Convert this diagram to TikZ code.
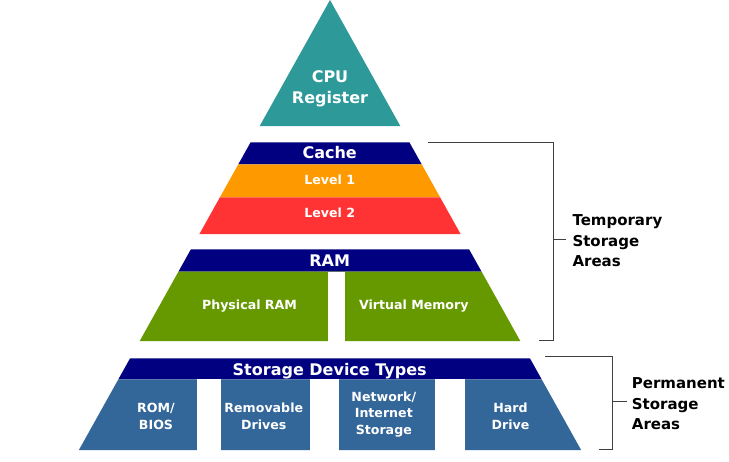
\documentclass[tikz,border=0pt]{standalone}
\usepackage{fontspec}
\setmainfont{DejaVu Sans}
\usepackage{tikz}
\definecolor{cputeal}{RGB}{46,153,153}
\definecolor{bandnavy}{RGB}{0,0,128}
\definecolor{lvlorange}{RGB}{255,153,0}
\definecolor{lvlred}{RGB}{255,51,51}
\definecolor{ramgreen}{RGB}{102,153,0}
\definecolor{devblue}{RGB}{51,102,153}
\tikzstyle{inlabel} = [text=white, inner sep=0pt, anchor=base, align=center]
\tikzstyle{bigtext} = [inlabel, font=\fontsize{16}{21}\selectfont\bfseries]
\tikzstyle{smalltext} = [inlabel, font=\fontsize{12.6}{16.6}\selectfont\bfseries]
\tikzstyle{sidetext} = [inner sep=0pt, anchor=base west, align=left, font=\fontsize{15}{20.5}\selectfont\bfseries]
\tikzstyle{bracket} = [line width=1.5pt, black!75]
\def\slope{0.558}
% one horizontal band of the pyramid, from y=#1 down to y=#2
\newcommand{\pyrband}[3]{%
  \fill[#3] ({330-\slope*#1},#1) -- ({330+\slope*#1},#1) -- ({330+\slope*#2},#2) -- ({330-\slope*#2},#2) -- cycle;}

\begin{document}
\begin{tikzpicture}[x=1pt, y=-1pt]
\fill[white] (0,0) rectangle (729,461);

% Pyramid
\fill[cputeal] (330,0) -- ({330+\slope*126},126) -- ({330-\slope*126},126) -- cycle;
\pyrband{142.3}{164.3}{bandnavy}
\pyrband{164.3}{197.3}{lvlorange}
\pyrband{197.3}{234}{lvlred}
\pyrband{249.3}{271.7}{bandnavy}
\pyrband{271.7}{341}{ramgreen}
\fill[white] (327.7,271.7) rectangle (345,341.5);
\pyrband{358.3}{379.3}{bandnavy}
\pyrband{379.3}{450}{devblue}
\foreach \xa/\xb in {196.7/220.7, 310/339.3, 435/465}
  \fill[white] (\xa,379.3) rectangle (\xb,450.5);

% Labels (base = baseline of the last line)
\node (cpu) [bigtext] at (330,103.5) {CPU\\Register};
\node (cache) [bigtext] at (329.7,158.3) {Cache};
\node (lvl1) [smalltext] at (329.7,184.3) {Level 1};
\node (lvl2) [smalltext] at (329.7,217.7) {Level 2};
\node (ram) [bigtext] at (329.7,266.7) {RAM};
\node (physram) [smalltext] at (249.5,309.3) {Physical RAM};
\node (virtmem) [smalltext] at (413.8,309.3) {Virtual Memory};
\node (devtypes) [bigtext] at (329.7,375) {Storage Device Types};
\node (rom) [smalltext] at (156,429.3) {ROM/\\BIOS};
\node (removable) [smalltext] at (263.8,429.3) {Removable\\Drives};
\node (network) [smalltext] at (383.8,434.2) {Network/\\Internet\\Storage};
\node (harddrive) [smalltext] at (510.5,429.3) {Hard\\Drive};

% Brackets
\coordinate (tmptop) at (428,142.7);
\coordinate (tmpbot) at (539,340.7);
\coordinate (tmptick) at (553.3,239.3);
\coordinate (permtop) at (545,356.7);
\coordinate (permbot) at (599.3,449.3);
\coordinate (permtick) at (612.3,401.7);
\draw [bracket] (tmptop) -- ++(125.3,0) |- (tmpbot);
\draw [bracket] (tmptick) -- ++(12.4,0);
\draw [bracket] (permtop) -- ++(67.3,0) |- (permbot);
\draw [bracket] (permtick) -- ++(14.4,0);
\node (temporary) [sidetext] at (572.3,266.7) {Temporary\\Storage\\Areas};
\node (permanent) [sidetext] at (631.7,429.7) {Permanent\\Storage\\Areas};
\end{tikzpicture}
\end{document}
